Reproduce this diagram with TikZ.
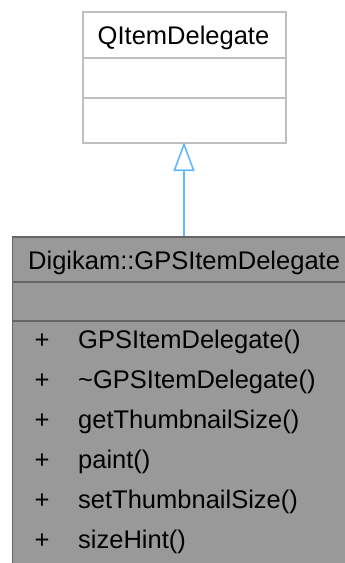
\documentclass[tikz,border=0pt]{standalone}
\usepackage{fontspec}
\setmainfont{Liberation Sans}
\usetikzlibrary{arrows.meta}
\definecolor{baseline}{HTML}{BFBFBF}
\definecolor{derivfill}{HTML}{999999}
\definecolor{derivline}{HTML}{666666}
\definecolor{inherit}{HTML}{63B8FF}
\tikzset{
  basebox/.style={draw=baseline, line width=1.6pt, fill=white, rectangle, inner sep=0pt, anchor=north west},
  derivbox/.style={draw=derivline, line width=1.6pt, fill=derivfill, rectangle, inner sep=0pt, anchor=north west},
  txt/.style={font=\fontsize{25.5}{30}\selectfont, inner sep=0pt, text=black},
  inh/.style={draw=inherit, line width=1.6pt, -{Triangle[open, length=29pt, width=21pt, line width=1.6pt]}}
}
\begin{document}
\begin{tikzpicture}[x=1pt,y=1pt]
\useasboundingbox (0,0) rectangle (345,-563);
\clip (0,0) rectangle (345,-563);
% base class
\node[basebox, minimum width=203pt, minimum height=131pt] (base) at (82,-11) {};
\draw[draw=baseline, line width=1.6pt] (82,-58) -- (285,-58);
\draw[draw=baseline, line width=1.6pt] (82,-98) -- (285,-98);
\node[txt, anchor=base] (basetitle) at (183.5,-44) {QItemDelegate};
% derived class
\node[derivbox, minimum width=345pt, minimum height=340pt] (deriv) at (11.5,-236) {};
\draw[draw=derivline, line width=1.6pt] (11.5,-282) -- (360,-282);
\draw[draw=derivline, line width=1.6pt] (11.5,-321) -- (360,-321);
\node[txt, anchor=base west] (dtitle) at (28,-269) {Digikam::GPSItemDelegate};
\foreach \i/\t in {0/GPSItemDelegate(),1/\textasciitilde GPSItemDelegate(),2/getThumbnailSize(),3/paint(),4/setThumbnailSize(),5/sizeHint()}{
  \node[txt, anchor=base] (p\i) at (42,-348-40*\i) {+};
  \node[txt, anchor=base west] (m\i) at (78,-348-40*\i) {\t};
}
% inheritance
\coordinate (dtop) at (184,-236);
\coordinate (btop) at (184,-142);
\draw[inh] (dtop) -- (btop);
\end{tikzpicture}
\end{document}
